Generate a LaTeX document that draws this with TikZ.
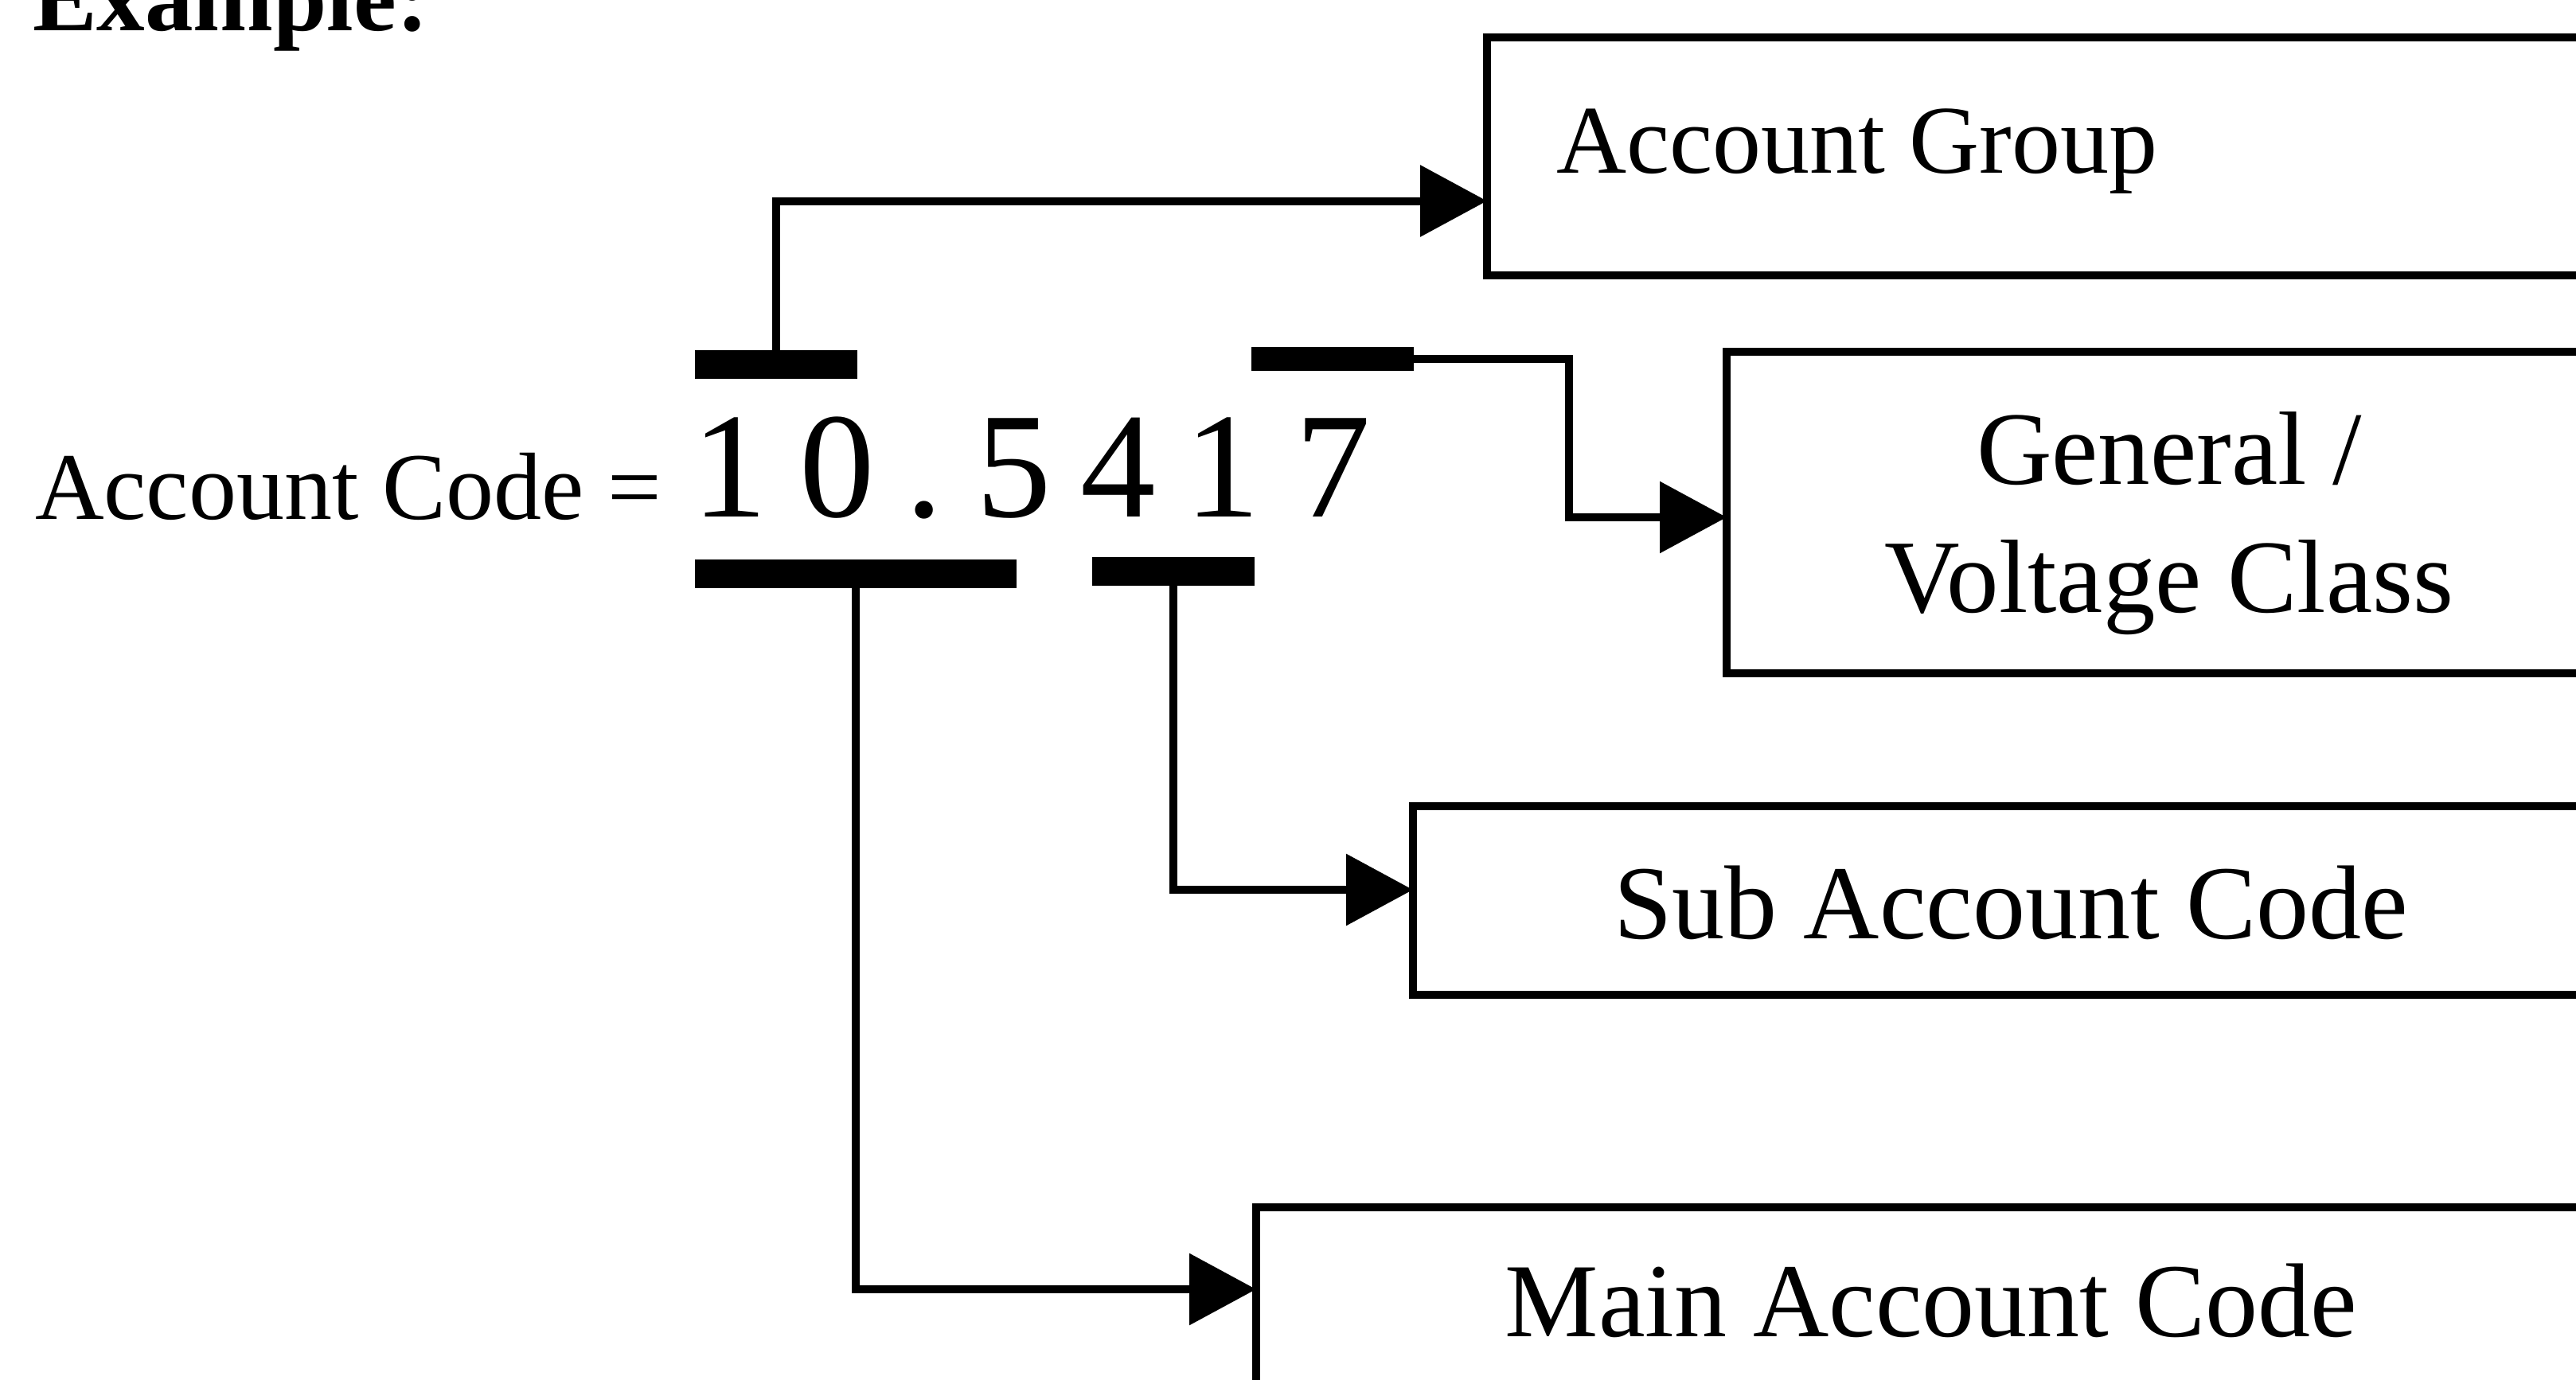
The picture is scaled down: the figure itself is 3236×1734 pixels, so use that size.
\documentclass[tikz,border=0pt]{standalone}
\usepackage{fontspec}
\setmainfont{Liberation Serif}
\usetikzlibrary{arrows.meta}
\begin{document}
\begin{tikzpicture}[x=0.5pt,y=-0.5pt,
  conn/.style={line width=5pt, -{Triangle[length=42pt,width=44pt]}},
  bar/.style={fill=black, inner sep=0pt, outer sep=0pt},
  box/.style={draw, line width=5pt, inner sep=0pt, outer sep=0pt, anchor=north west},
  lbl/.style={inner sep=0pt, outer sep=0pt}]
\useasboundingbox (0,0) rectangle (3236,1734);
\clip (0,0) rectangle (3236,1734);
\fill[white] (0,0) rectangle (3236,1734);
% texts on the left
\node[lbl, anchor=base west, font=\fontsize{60.5}{72}\selectfont\bfseries] (ex) at (41,39) {Example:};
\node[lbl, anchor=base west, font=\fontsize{60}{72}\selectfont] (ac) at (44,652) {Account Code =};
\node[lbl, anchor=base west, font=\fontsize{94.5}{110}\selectfont] (code) at (869,649)
  {1\hspace{20.4pt}0\hspace{19.6pt}.\hspace{20.5pt}5\hspace{18.6pt}4\hspace{18.3pt}1\hspace{21.9pt}7};
% bars
\node[bar, minimum width=102pt, minimum height=18pt] (bTL) at (975,457.5) {};
\node[bar, minimum width=102pt, minimum height=15pt] (bTR) at (1674,451) {};
\node[bar, minimum width=202pt, minimum height=18pt] (bBL) at (1075,721) {};
\node[bar, minimum width=102pt, minimum height=18pt] (bBR) at (1474,718) {};
% boxes
\node[box, minimum width=704.5pt, minimum height=149.5pt] (boxA) at (1868,47) {};
\node[box, minimum width=554pt, minimum height=202pt] (boxG) at (2169,442) {};
\node[box, minimum width=751pt, minimum height=118.5pt] (boxS) at (1775,1013) {};
\node[box, minimum width=849.5pt, minimum height=151.5pt] (boxM) at (1578,1517) {};
% box texts
\node[lbl, anchor=base west, font=\fontsize{61}{73}\selectfont] (tA) at (1955,218) {Account Group};
\node[lbl, anchor=base, font=\fontsize{65.5}{80.5}\selectfont] (tG) at (2725,608)
  {\begin{tabular}[t]{@{}c@{}}General /\\Voltage Class\end{tabular}};
\node[lbl, anchor=base, font=\fontsize{66}{79}\selectfont] (tS) at (2526,1179) {Sub Account Code};
\node[lbl, anchor=base, font=\fontsize{66}{79}\selectfont] (tM) at (2426,1679) {Main Account Code};
% connectors
\draw[conn] (bTL.north) |- ([yshift=-28pt]boxA.west);
\draw[conn] (bTR.east) -- ++(195,0) |- ([yshift=-3pt]boxG.west);
\draw[conn] (bBR.south) |- ([yshift=6.75pt]boxS.west);
\draw[conn] (bBL.south) |- ([yshift=24.25pt]boxM.west);
\end{tikzpicture}
\end{document}
